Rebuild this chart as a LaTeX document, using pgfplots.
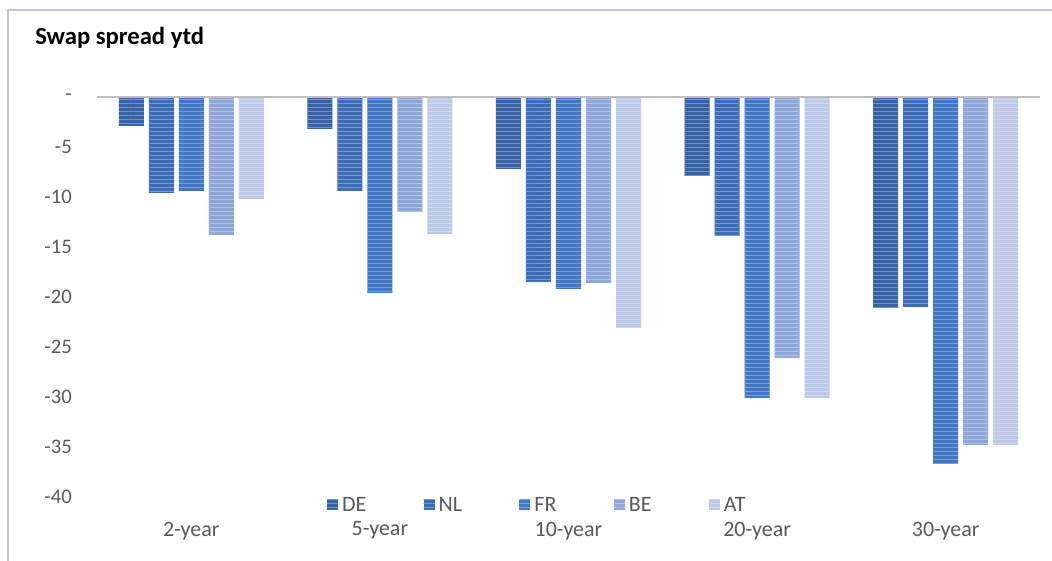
\documentclass[border=0pt]{standalone}
\usepackage{fontspec}
\setmainfont{Carlito}
\usepackage{pgfplots}
\pgfplotsset{compat=1.18}
\usetikzlibrary{patterns}

\definecolor{cDE}{HTML}{3762A6}
\definecolor{cNL}{HTML}{3C6DB6}
\definecolor{cFR}{HTML}{4277C3}
\definecolor{cBE}{HTML}{8EA6D8}
\definecolor{cAT}{HTML}{BDC9E8}
\definecolor{txt}{HTML}{595959}
\definecolor{frame}{HTML}{C9BFE0}
\definecolor{zeroline}{HTML}{BFBFBF}

\pgfplotsset{
  stripebar/.style={fill=#1, draw=none,
    postaction={pattern=horizontal lines, pattern color=#1!70!white}},
}

\begin{document}
\begin{tikzpicture}
  % picture area: 1052x560 px at 0.75pt/px, axis box at (0,0)
  \useasboundingbox (-72.75pt,-47.25pt) rectangle (716.25pt,372.75pt);
  \draw[frame, line width=1.5pt] (-66.75pt,-80pt) -- (-66.75pt,365.25pt) -- (760pt,365.25pt);
  \node[anchor=base west, inner sep=0pt, font=\fontsize{18.5}{22}\selectfont\bfseries]
    at (-46.5pt,339pt) {Swap spread ytd};

  \begin{axis}[
    scale only axis,
    width=707.25pt,
    height=300pt,
    ybar=3.75pt,
    bar width=0.1326,
    xmin=-0.5, xmax=4.5,
    ymin=-40, ymax=0,
    axis line style={draw=none},
    tick style={draw=none},
    xtick={0,1,2,3,4},
    xticklabels={2-year,5-year,10-year,20-year,30-year},
    ytick={-40,-35,-30,-25,-20,-15,-10,-5,0},
    yticklabels={-40,-35,-30,-25,-20,-15,-10,-5,{-\hspace{6.75pt}}},
    xticklabel style={anchor=center, yshift=-21pt, text=txt,
      font=\fontsize{16.5}{19}\selectfont},
    yticklabel style={anchor=east, inner sep=0pt, xshift=-18.75pt, text=txt,
      font=\fontsize{15.5}{18}\selectfont},
    legend columns=5,
    legend style={draw=none, at={(0.468,-0.02)}, anchor=center,
      font=\fontsize{16.5}{19}\selectfont, text=txt,
      /tikz/every even column/.append style={column sep=40pt},
      nodes={inner xsep=3pt}},
    legend image code/.code={\fill[#1] (0pt,-4.1pt) rectangle (8.25pt,4.1pt);},
  ]
    \addplot[stripebar=cDE] coordinates {(0,-2.9) (1,-3.2) (2,-7.2) (3,-7.9) (4,-21.1)};
    \addplot[stripebar=cNL] coordinates {(0,-9.6) (1,-9.4) (2,-18.5) (3,-13.9) (4,-21.0)};
    \addplot[stripebar=cFR] coordinates {(0,-9.4) (1,-19.6) (2,-19.2) (3,-30.1) (4,-36.7)};
    \addplot[stripebar=cBE] coordinates {(0,-13.8) (1,-11.5) (2,-18.6) (3,-26.1) (4,-34.8)};
    \addplot[stripebar=cAT] coordinates {(0,-10.2) (1,-13.7) (2,-23.1) (3,-30.1) (4,-34.8)};
    \legend{DE,NL,FR,BE,AT}
    \draw[zeroline, line width=2.25pt] (rel axis cs:0,1) -- (rel axis cs:1,1);
  \end{axis}
\end{tikzpicture}
\end{document}
